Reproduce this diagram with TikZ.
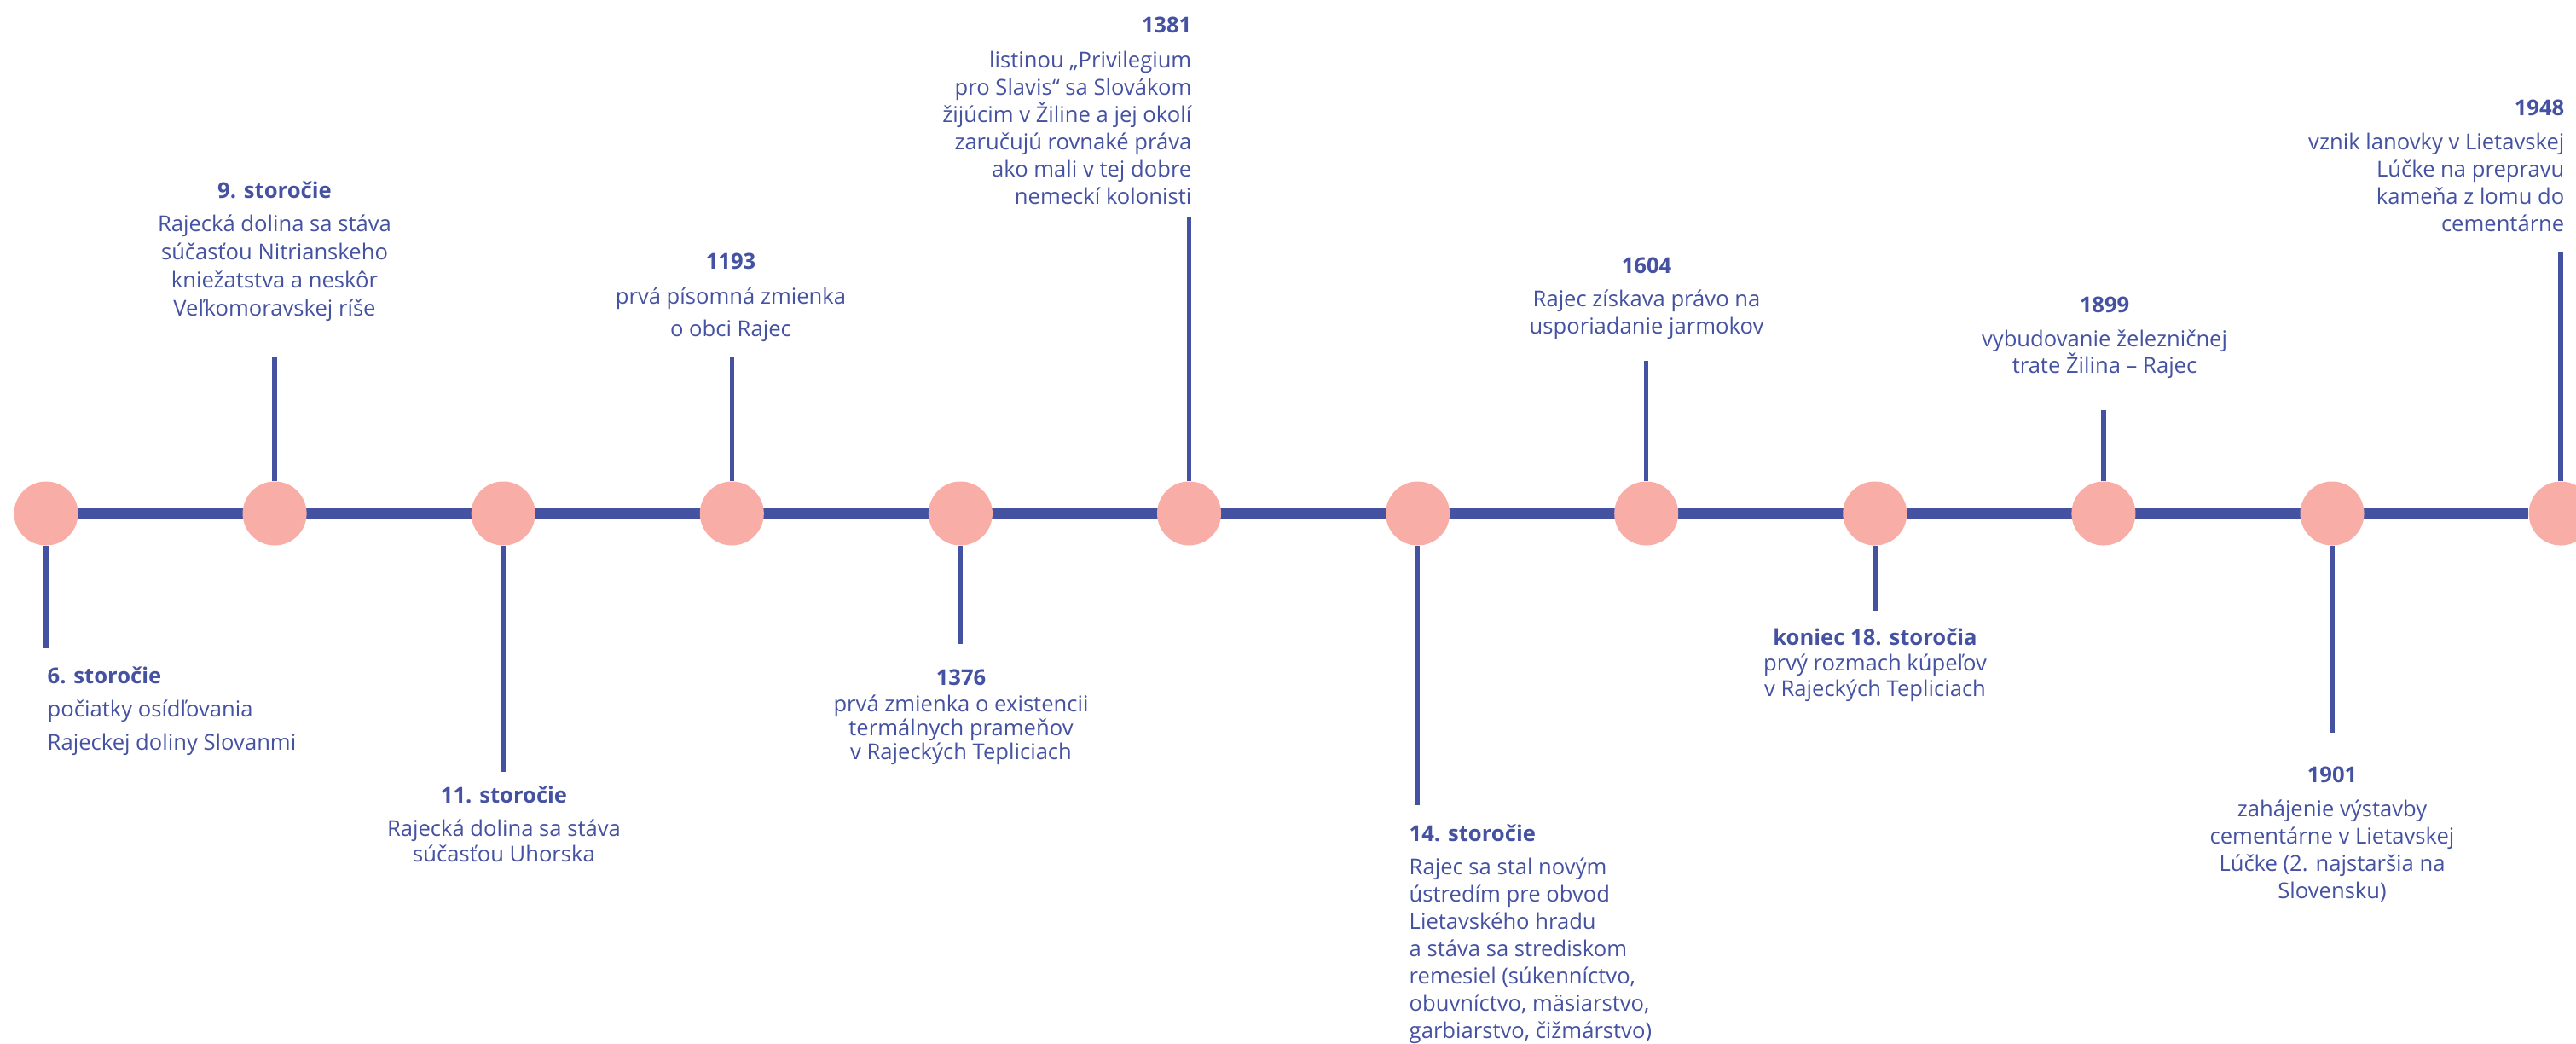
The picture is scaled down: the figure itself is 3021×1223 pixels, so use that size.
\documentclass[tikz,border=0pt]{standalone}
\usepackage{fontspec}
\setmainfont{Open Sans}
\usetikzlibrary{backgrounds}
\definecolor{tlblue}{HTML}{4552A1}
\definecolor{tlpink}{HTML}{F8ADA6}

\begin{document}
\begin{tikzpicture}[x=0.01cm, y=-0.01cm]
    \pgfmathsetmacro{\gap}{268.1}
    \tikzset{
        dot/.style={circle, fill=tlpink, minimum size=0.75cm, inner sep=0pt},
        axis/.style={tlblue, line width=0.125cm},
        stick/.style={tlblue, line width=0.055cm},
        event/.style={text=tlblue, inner sep=0pt, align=center, anchor=north,
            font=\fontsize{0.256cm}{#1}\selectfont},
        event/.default=0.32cm
    }
    \useasboundingbox (0,0) rectangle (3021,1223);
    % dots on the time axis, stems alternate down / up
    \foreach \i/\e [evaluate=\i as \xx using {54+(\i-1)*\gap}] in
        {1/760, 2/418, 3/905, 4/418, 5/755, 6/255, 7/944, 8/423, 9/716, 10/481, 11/859, 12/295}{
        \node[dot] (d\i) at (\xx,602) {};
        \coordinate (s\i) at (\xx,\e);
    }
    \begin{scope}[on background layer]
        \draw[axis] (d1) -- (d12);
    \end{scope}
    \foreach \i in {1,...,12}{
        \draw[stick] (d\i) -- (s\i);
    }
    % texts
    \node[event=0.39cm, align=left, anchor=north west] (t1) at (55,781)
        {\textbf{6. storočie}\\ počiatky osídľovania\\ Rajeckej doliny Slovanmi};
    \node[event=0.33cm] (t2) at (322,212)
        {\textbf{9. storočie}\\[0.06cm] Rajecká dolina sa stáva\\ súčasťou Nitrianskeho\\ kniežatstva a neskôr\\ Veľkomoravskej ríše};
    \node[event=0.30cm] (t3) at (591,921)
        {\textbf{11. storočie}\\[0.09cm] Rajecká dolina sa stáva\\ súčasťou Uhorska};
    \node[event=0.38cm] (t4) at (857,296)
        {\textbf{1193}\\[0.03cm] prvá písomná zmienka\\ o obci Rajec};
    \node[event=0.28cm] (t5) at (1127,784)
        {\textbf{1376}\\[0.03cm] prvá zmienka o existencii\\ termálnych prameňov\\ v Rajeckých Tepliciach};
    \node[event, align=right, anchor=north east] (t6) at (1398,19)
        {\textbf{1381}\\[0.09cm] listinou „Privilegium\\ pro Slavis“ sa Slovákom\\ žijúcim v Žiline a jej okolí\\ zaručujú rovnaké práva\\ ako mali v tej dobre\\ nemeckí kolonisti};
    \node[event, align=left, anchor=north west] (t7) at (1652,966)
        {\textbf{14. storočie}\\[0.07cm] Rajec sa stal novým\\ ústredím pre obvod\\ Lietavského hradu\\ a stáva sa strediskom\\ remesiel (súkenníctvo,\\ obuvníctvo, mäsiarstvo,\\ garbiarstvo, čižmárstvo)};
    \node[event] (t8) at (1931,301)
        {\textbf{1604}\\[0.07cm] Rajec získava právo na\\ usporiadanie jarmokov};
    \node[event=0.30cm] (t9) at (2199,736)
        {\textbf{koniec 18. storočia}\\ prvý rozmach kúpeľov\\ v Rajeckých Tepliciach};
    \node[event=0.31cm] (t10) at (2468,347)
        {\textbf{1899}\\[0.09cm] vybudovanie železničnej\\ trate Žilina – Rajec};
    \node[event] (t11) at (2735,898)
        {\textbf{1901}\\[0.08cm] zahájenie výstavby\\ cementárne v Lietavskej\\ Lúčke (2. najstaršia na\\ Slovensku)};
    \node[event, align=right, anchor=north east] (t12) at (3008,116)
        {\textbf{1948}\\[0.08cm] vznik lanovky v Lietavskej\\ Lúčke na prepravu\\ kameňa z lomu do\\ cementárne};
\end{tikzpicture}
\end{document}
